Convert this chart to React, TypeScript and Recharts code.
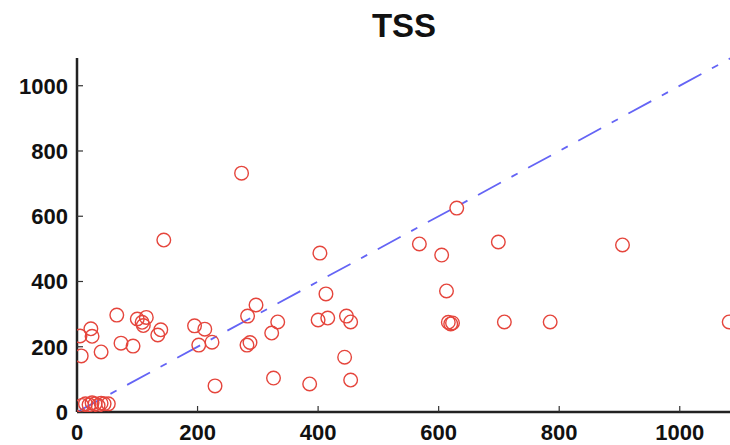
import React from "react";
import {
  ScatterChart,
  Scatter,
  XAxis,
  YAxis,
  ReferenceLine,
} from "recharts";

// observed TSS (x) vs modelled TSS (y)
const observed = [
  8, 14, 20, 25, 30, 35, 40, 45, 52,
  5, 7, 23, 25, 40, 66, 73, 93, 100, 108, 110, 115, 134, 139, 144,
  195, 202, 212, 224, 229, 273, 282, 287, 283, 297, 323, 326, 333,
  386, 403, 400, 413, 416, 447, 444, 454, 454,
  568, 605, 613, 616, 620, 623, 630, 699, 709, 785, 905, 1082,
];
const modelled = [
  20, 25, 22, 28, 25, 20, 27, 25, 25,
  233, 172, 255, 232, 184, 297, 211, 202, 285, 275, 265, 290, 236, 252, 527,
  264, 205, 254, 214, 80, 732, 205, 213, 294, 328, 242, 104, 276,
  86, 487, 282, 362, 288, 294, 168, 276, 98,
  515, 481, 371, 275, 270, 273, 625, 521, 276, 276, 512, 276,
];

const axisMax = 1085;
const tickValues = [0, 200, 400, 600, 800, 1000];
const oneToOne = [0, axisMax];

const points = observed.map((x, i) => ({ x, y: modelled[i] }));

const font = "'Liberation Sans', Arial, Helvetica, sans-serif";
const tickStyle = { fill: "#111", fontSize: 22, fontWeight: 700, fontFamily: font };

const Ring = (props: any) => (
  <circle cx={props.cx} cy={props.cy} r={6.8} fill="none" stroke="#e5453c" strokeWidth={1.4} />
);

export default function App() {
  return (
    <div
      style={{
        position: "absolute",
        left: 0,
        top: 0,
        width: 730,
        height: 445,
        overflow: "hidden",
        background: "#fff",
      }}
    >
      <div
        style={{
          position: "absolute",
          left: 77,
          width: 654,
          top: 7,
          textAlign: "center",
          fontFamily: font,
          fontWeight: 700,
          fontSize: 33,
          color: "#111",
        }}
      >
        TSS
      </div>
      <ScatterChart
        width={740}
        height={445}
        margin={{ top: 58, right: 9, bottom: 0, left: 0 }}
      >
        <XAxis
          xAxisId={0}
          type="number"
          dataKey="x"
          domain={[0, axisMax]}
          ticks={tickValues}
          height={33}
          tickSize={-6}
          tickMargin={18}
          tick={tickStyle}
          axisLine={{ stroke: "#222", strokeWidth: 2.5 }}
          tickLine={{ stroke: "#333", strokeWidth: 1.2 }}
          allowDataOverflow
        />
        <XAxis
          xAxisId="top"
          orientation="top"
          type="number"
          domain={[0, axisMax]}
          ticks={tickValues}
          height={0}
          tickSize={-6}
          tickFormatter={() => ""}
          axisLine={{ stroke: "#222", strokeWidth: 2 }}
          tickLine={{ stroke: "#333", strokeWidth: 1.2 }}
          allowDataOverflow
        />
        <YAxis
          yAxisId={0}
          type="number"
          dataKey="y"
          domain={[0, axisMax]}
          ticks={tickValues}
          width={77}
          tickSize={-6}
          tickMargin={15}
          tick={tickStyle}
          axisLine={{ stroke: "#222", strokeWidth: 2.5 }}
          tickLine={{ stroke: "#333", strokeWidth: 1.2 }}
          allowDataOverflow
        />
        <YAxis
          yAxisId="right"
          orientation="right"
          type="number"
          domain={[0, axisMax]}
          ticks={tickValues}
          width={0}
          tickSize={-6}
          tickFormatter={() => ""}
          axisLine={{ stroke: "#222", strokeWidth: 2 }}
          tickLine={{ stroke: "#333", strokeWidth: 1.2 }}
          allowDataOverflow
        />
        <ReferenceLine
          xAxisId={0}
          yAxisId={0}
          segment={[
            { x: oneToOne[0], y: oneToOne[0] },
            { x: oneToOne[1], y: oneToOne[1] },
          ]}
          stroke="#6464f5"
          strokeWidth={1.8}
          strokeDasharray="26 12 7 12"
          ifOverflow="visible"
        />
        <Scatter
          xAxisId={0}
          yAxisId={0}
          data={points}
          shape={Ring}
          isAnimationActive={false}
        />
      </ScatterChart>
    </div>
  );
}
